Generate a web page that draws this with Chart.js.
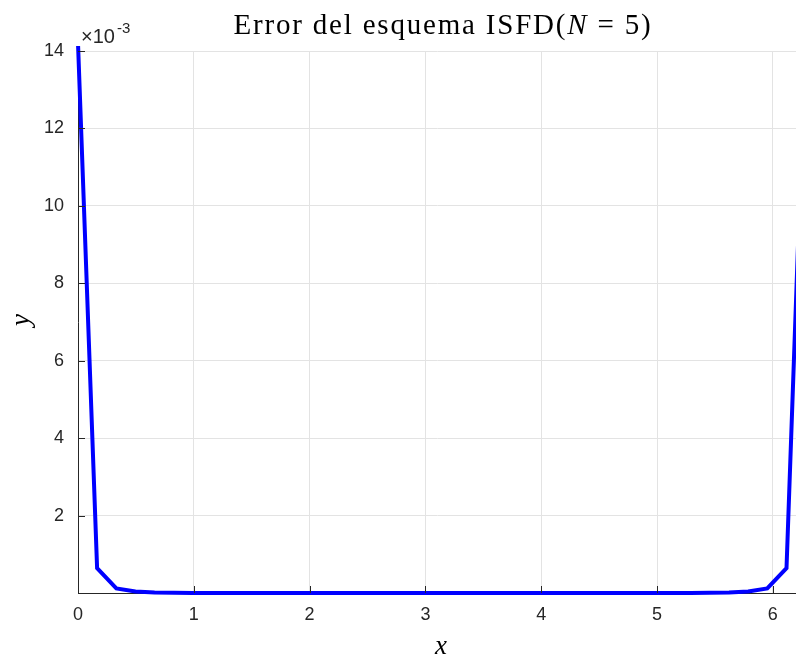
<!DOCTYPE html>
<html>
<head>
<meta charset="utf-8">
<script src="https://cdn.jsdelivr.net/npm/chart.js@4"></script>
<style>
  html, body { margin: 0; padding: 0; background: #fff; }
  #wrap { width: 796px; height: 659px; position: relative; }
</style>
</head>
<body>
<div id="wrap"><canvas id="myChart" width="796" height="659"></canvas></div>
<script>
// x nodes (grid over [0, 2*pi])
const x_values = [0, 0.165, 0.331, 0.496, 0.661, 0.827, 0.992, 1.158, 1.323, 1.488,
  1.653, 1.819, 1.984, 2.149, 2.315, 2.480, 2.645, 2.811, 2.976, 3.142,
  3.307, 3.472, 3.638, 3.803, 3.968, 4.134, 4.299, 4.464, 4.630, 4.795,
  4.960, 5.126, 5.291, 5.456, 5.622, 5.787, 5.952, 6.118, 6.283];
// error, in units of 1e-3
const error_values = [14.2, 0.64, 0.12, 0.04, 0.015, 0.005, 0.002, 0.001,
  0, 0, 0, 0, 0, 0, 0, 0, 0, 0, 0, 0, 0, 0, 0, 0, 0, 0, 0, 0, 0, 0, 0,
  0.001, 0.002, 0.005, 0.015, 0.04, 0.12, 0.64, 14.5];
const x_ticks = [0, 1, 2, 3, 4, 5, 6];
const y_ticks = [0, 2, 4, 6, 8, 10, 12, 14];

const tickColor = '#262626';
const gridColor = '#e3e3e3';

// title, axis labels, exponent and inward tick marks
const decorations = {
  id: 'decorations',
  afterDraw(chart) {
    const c = chart.ctx;
    const area = chart.chartArea;
    const xs = chart.scales.x, ys = chart.scales.y;
    c.save();
    // inward tick marks
    c.strokeStyle = tickColor;
    c.lineWidth = 1;
    x_ticks.forEach(v => {
      const px = Math.round(xs.getPixelForValue(v)) + 0.5;
      c.beginPath(); c.moveTo(px, area.bottom); c.lineTo(px, area.bottom - 7); c.stroke();
    });
    y_ticks.forEach(v => {
      const py = Math.round(ys.getPixelForValue(v)) + 0.5;
      c.beginPath(); c.moveTo(area.left, py); c.lineTo(area.left + 7, py); c.stroke();
    });

    // title with italic N
    c.fillStyle = '#000';
    c.textBaseline = 'alphabetic';
    c.letterSpacing = '1.8px';
    const parts = [
      ['Error del esquema ISFD(', '29px "Liberation Serif"'],
      ['N', 'italic 29px "Liberation Serif"'],
      [' = 5)', '29px "Liberation Serif"']
    ];
    let total = 0;
    parts.forEach(p => { c.font = p[1]; total += c.measureText(p[0]).width; });
    let tx = 443 - total / 2;
    c.textAlign = 'left';
    parts.forEach(p => {
      c.font = p[1];
      c.fillText(p[0], tx, 34);
      tx += c.measureText(p[0]).width;
    });
    c.letterSpacing = '0px';

    // axis labels
    c.font = 'italic 27px "Liberation Serif"';
    c.textAlign = 'center';
    c.fillText('x', 441, 654);
    c.save();
    c.translate(29, 320);
    c.rotate(-Math.PI / 2);
    c.fillText('y', 0, 0);
    c.restore();

    // exponent
    c.fillStyle = tickColor;
    c.textAlign = 'left';
    c.font = '20px "Liberation Sans"';
    c.fillText('\u00d710', 81, 43);
    const w = c.measureText('\u00d710').width;
    c.font = '15px "Liberation Sans"';
    c.fillText('-3', 81 + w + 2, 33);
    c.restore();
  }
};

const ctx = document.getElementById('myChart').getContext('2d');
let myChart = new Chart(ctx, {
  type: 'line',
  data: {
    datasets: [{
      label: 'error',
      data: x_values.map((v, i) => ({ x: v, y: error_values[i] })),
      borderColor: '#0000ff',
      borderWidth: 4,
      pointRadius: 0,
      fill: false,
      tension: 0,
      clip: { left: 3, top: 5, right: 0, bottom: 3 }
    }]
  },
  options: {
    responsive: false,
    animation: false,
    layout: { padding: { top: 51, right: 0, left: 0, bottom: 0 } },
    plugins: { legend: { display: false }, tooltip: { enabled: false }, title: { display: false } },
    scales: {
      x: {
        type: 'linear',
        min: 0,
        max: 6.2,
        afterFit: s => { s.height = 66; },
        afterBuildTicks: s => { s.ticks = x_ticks.map(v => ({ value: v })); },
        ticks: {
          color: tickColor,
          font: { family: 'Liberation Sans', size: 18 },
          padding: 11,
          maxRotation: 0,
          callback: v => String(v)
        },
        grid: { color: gridColor, lineWidth: 1, drawTicks: false },
        border: { color: tickColor, width: 1 }
      },
      y: {
        type: 'linear',
        min: 0,
        max: 14,
        afterFit: s => { s.width = 78; },
        afterBuildTicks: s => { s.ticks = y_ticks.map(v => ({ value: v })); },
        ticks: {
          color: tickColor,
          font: { family: 'Liberation Sans', size: 18 },
          padding: 14,
          callback: v => (v === 0 ? '' : String(v))
        },
        grid: { color: gridColor, lineWidth: 1, drawTicks: false },
        border: { color: tickColor, width: 1 }
      }
    }
  },
  plugins: [decorations]
});
</script>
</body>
</html>
